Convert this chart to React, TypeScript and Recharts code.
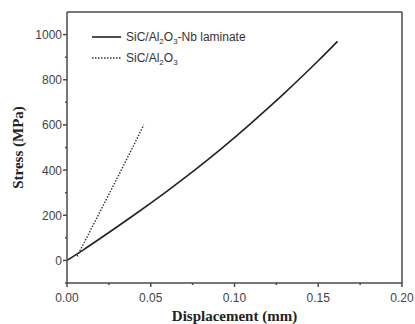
import React from 'react';
import { ComposedChart, Line, XAxis, YAxis, ReferenceLine } from 'recharts';

const laminateX = [0, 0.01, 0.02, 0.03, 0.04, 0.05, 0.06, 0.07, 0.08, 0.09, 0.10, 0.11, 0.12, 0.13, 0.14, 0.15, 0.1615];
const laminateY = [0, 48, 98, 149, 201, 254, 308, 364, 422, 482, 544, 608, 674, 742, 812, 884, 970];
const monoX = [0.006, 0.01, 0.02, 0.03, 0.04, 0.0458];
const monoY = [18, 75, 220, 365, 512, 600];

const xMajor = [0, 0.05, 0.1, 0.15, 0.2];
const xTicks = [0, 0.025, 0.05, 0.075, 0.1, 0.125, 0.15, 0.175, 0.2];
const yMajor = [0, 200, 400, 600, 800, 1000];
const yTicks = [-100, 0, 100, 200, 300, 400, 500, 600, 700, 800, 900, 1000, 1100];

const laminate = laminateX.map((x, i) => ({ x, y: laminateY[i] }));
const mono = monoX.map((x, i) => ({ x, y: monoY[i] }));

const AX = '#4a4a4a';
const SANS = 'Liberation Sans, Arial, sans-serif';
const SERIF = 'Liberation Serif, Times New Roman, serif';

const isMajor = (arr: number[], v: number) => arr.some((m) => Math.abs(m - v) < 1e-9);

const XTick = (props: any) => {
  const { x, y, payload } = props;
  const v = payload.value as number;
  const major = isMajor(xMajor, v);
  return (
    <g>
      <line x1={x} x2={x} y1={y} y2={y + (major ? 4 : 2)} stroke={AX} strokeWidth={1.5} />
      {major && (
        <text x={x} y={y + 19} textAnchor="middle" fontFamily={SANS} fontSize={12} fill="#444">
          {v.toFixed(2)}
        </text>
      )}
    </g>
  );
};

const YTick = (props: any) => {
  const { x, y, payload } = props;
  const v = payload.value as number;
  const major = isMajor(yMajor, v);
  if (v === 1100) return <g />;
  return (
    <g>
      <line x1={x} x2={x - (major ? 4 : 2)} y1={y} y2={y} stroke={AX} strokeWidth={1.5} />
      {major && (
        <text x={x - 5} y={y + 4.5} textAnchor="end" fontFamily={SANS} fontSize={12} fill="#444">
          {String(v)}
        </text>
      )}
    </g>
  );
};

const Sub = ({ c }: { c: string }) => (
  <tspan fontSize={8} dy={3}>{c}</tspan>
);

export default function App() {
  return (
    <div style={{ position: 'absolute', left: 0, top: 0, width: 415, height: 324, background: '#fff' }}>
      <ComposedChart width={415} height={324} margin={{ top: 12, right: 13, left: 0, bottom: 0 }}>
        <XAxis dataKey="x" type="number" domain={[0, 0.2]} ticks={xTicks} allowDataOverflow interval={0}
          height={41} stroke={AX} strokeWidth={1.5} tickSize={0} tickMargin={0} tickLine={false} tick={<XTick />}
          label={{ value: 'Displacement (mm)', position: 'insideBottom', offset: 3, style: { fontFamily: SERIF, fontWeight: 'bold', fontSize: 15, fill: '#222' } }} />
        <YAxis type="number" domain={[-100, 1100]} ticks={yTicks} allowDataOverflow width={67} interval={0}
          stroke={AX} strokeWidth={1.5} tickSize={0} tickMargin={0} tickLine={false} tick={<YTick />}
          label={{ value: 'Stress (MPa)', angle: -90, position: 'insideLeft', offset: 18, style: { textAnchor: 'middle', fontFamily: SERIF, fontWeight: 'bold', fontSize: 15, fill: '#222' } }} />
        <ReferenceLine y={1100} stroke={AX} strokeWidth={1.5} />
        <ReferenceLine x={0.2} stroke={AX} strokeWidth={1.5} />
        <Line data={laminate} dataKey="y" type="monotone" stroke="#222" strokeWidth={1.6}
          dot={false} isAnimationActive={false} />
        <Line data={mono} dataKey="y" type="linear" stroke="#333" strokeWidth={1.4}
          strokeDasharray="1.5 1.5" dot={false} isAnimationActive={false} />
      </ComposedChart>
      <svg width={415} height={324} style={{ position: 'absolute', left: 0, top: 0, pointerEvents: 'none' }}>
        <line x1={92} x2={121} y1={37} y2={37} stroke="#222" strokeWidth={1.6} />
        <text x={126} y={41} fontFamily={SANS} fontSize={12} fill="#333">
          SiC/Al<Sub c="2" /><tspan dy={-3}>O</tspan><Sub c="3" /><tspan dy={-3}>-Nb laminate</tspan>
        </text>
        <line x1={92} x2={121} y1={58} y2={58} stroke="#333" strokeWidth={1.4} strokeDasharray="1.5 1.5" />
        <text x={126} y={62} fontFamily={SANS} fontSize={12} fill="#333">
          SiC/Al<Sub c="2" /><tspan dy={-3}>O</tspan><Sub c="3" />
        </text>
      </svg>
    </div>
  );
}
